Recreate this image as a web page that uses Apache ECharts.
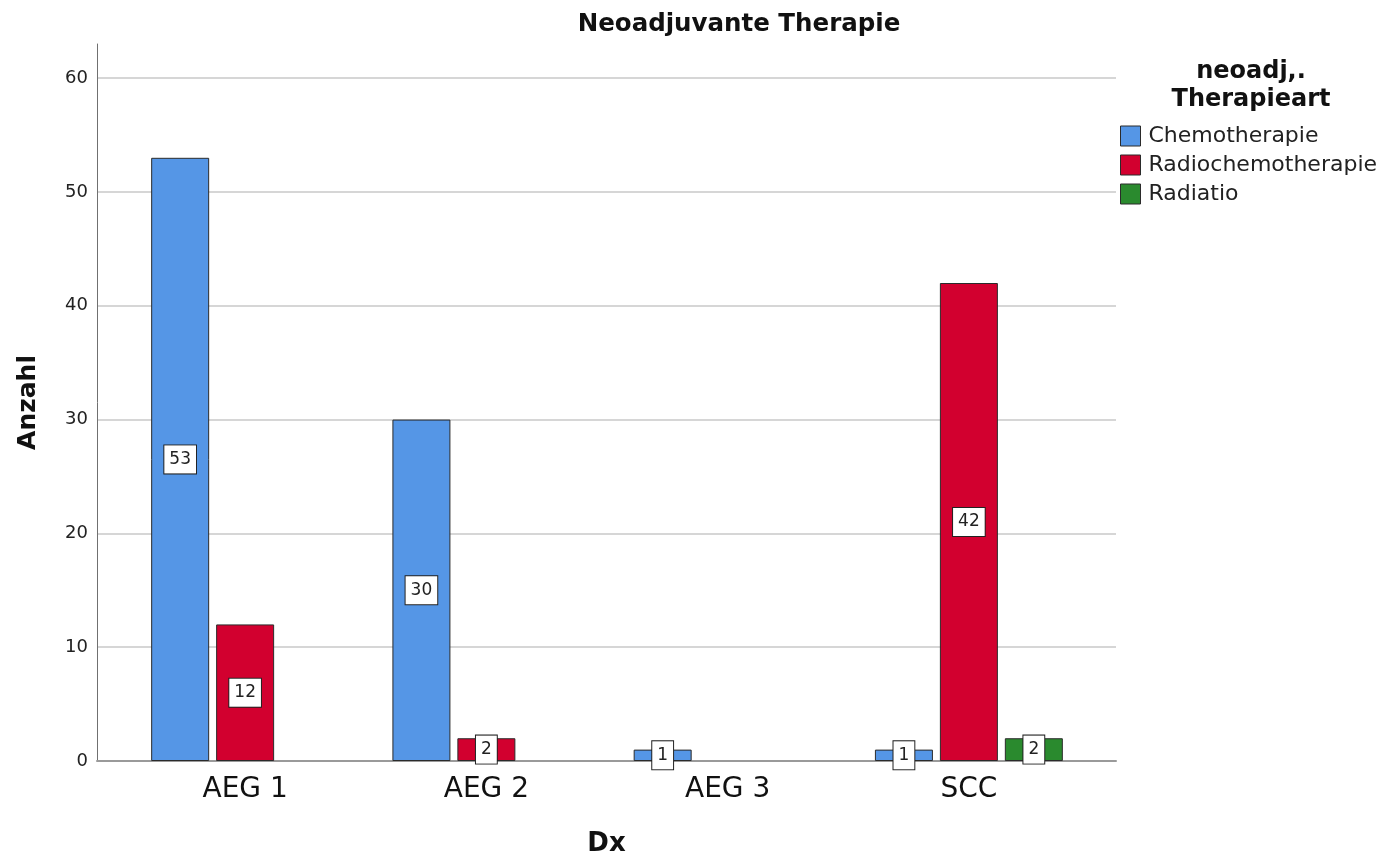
<!DOCTYPE html>
<html>
<head>
<meta charset="utf-8">
<title>Neoadjuvante Therapie</title>
<script src="https://cdn.jsdelivr.net/npm/echarts@6/dist/echarts.min.js"></script>
<style>
  html, body { margin: 0; padding: 0; background: #fff; }
  #chart { width: 1394px; height: 857px; }
</style>
</head>
<body>
<div id="chart"></div>
<script>
// Diagnosis groups on the x axis
const categories = ['AEG 1', 'AEG 2', 'AEG 3', 'SCC'];
// Counts per type of neoadjuvant therapy (null = no cases)
const chemotherapie = [53, 30, 1, 1];
const radiochemotherapie = [12, 2, null, 42];
const radiatio = [null, null, null, 2];
const seriesNames = ['Chemotherapie', 'Radiochemotherapie', 'Radiatio'];
const seriesColors = ['#5596E6', '#D2002F', '#2A8A2E'];
const yTicks = [0, 10, 20, 30, 40, 50, 60];

const FONT = 'DejaVu Sans';
const yMax = 63;

function barSeries(name, data, color) {
  return {
    name: name,
    type: 'bar',
    xAxisIndex: 1,
    yAxisIndex: 1,
    data: data,
    barWidth: 58,
    barGap: '12%',
    itemStyle: { color: color, borderColor: '#2b2b2b', borderWidth: 1 },
    label: {
      show: true,
      position: 'inside',
      color: '#222',
      fontFamily: FONT,
      fontSize: 17,
      backgroundColor: '#fff',
      borderColor: '#222',
      borderWidth: 1,
      padding: [6, 5, 5, 5]
    },
    emphasis: { disabled: true }
  };
}

const chart = echarts.init(document.getElementById('chart'), null, { renderer: 'canvas' });
chart.setOption({
  animation: false,
  backgroundColor: '#fff',
  title: [
    {
      text: 'Neoadjuvante Therapie',
      left: 734, top: 7, textAlign: 'center',
      textStyle: { fontFamily: FONT, fontWeight: 'bold', fontSize: 24.5, color: '#111' }
    },
    {
      text: 'neoadj,.\nTherapieart',
      left: 1246, top: 53, textAlign: 'center',
      textStyle: { fontFamily: FONT, fontWeight: 'bold', fontSize: 24, lineHeight: 28, color: '#111' }
    }
  ],
  legend: {
    orient: 'vertical',
    left: 1120, top: 125,
    padding: 0,
    icon: 'rect',
    itemWidth: 20, itemHeight: 20, itemGap: 7,
    itemStyle: { borderColor: '#2b2b2b', borderWidth: 1 },
    data: seriesNames,
    selectedMode: false,
    textStyle: { fontFamily: FONT, fontSize: 22, lineHeight: 22, color: '#222', padding: [0, 0, 0, 3] }
  },
  grid: [
    { left: 97, right: 278, top: 44, bottom: 96, outerBoundsMode: 'none' },
    { left: 124.5, right: 304.5, top: 44, bottom: 96, outerBoundsMode: 'none' }
  ],
  xAxis: [
    {
      gridIndex: 0, type: 'category', data: [''],
      name: 'Dx', nameLocation: 'middle', nameGap: 70,
      nameTextStyle: { fontFamily: FONT, fontWeight: 'bold', fontSize: 26, color: '#111' },
      axisLine: { lineStyle: { color: '#9a9a9a', width: 2 } },
      axisTick: { show: false }, axisLabel: { show: false }
    },
    {
      gridIndex: 1, type: 'category', data: categories,
      axisLine: { show: false }, axisTick: { show: false },
      axisLabel: { fontFamily: FONT, fontSize: 28, color: '#111', margin: 15 }
    }
  ],
  yAxis: [
    {
      gridIndex: 0, type: 'value', min: 0, max: yMax, interval: 10,
      name: 'Anzahl', nameLocation: 'middle', nameGap: 56,
      nameTextStyle: { fontFamily: FONT, fontWeight: 'bold', fontSize: 25, color: '#111' },
      axisLine: { show: true, lineStyle: { color: '#707070', width: 1 } },
      axisTick: { show: false },
      axisLabel: {
        fontFamily: FONT, fontSize: 18, color: '#222', margin: 9,
        showMaxLabel: false,
        formatter: v => (yTicks.indexOf(v) >= 0 ? String(v) : '')
      },
      splitLine: { show: true, showMinLine: false, showMaxLine: false, lineStyle: { color: '#c8c8c8', width: 1.5 } }
    },
    {
      gridIndex: 1, type: 'value', min: 0, max: yMax, interval: 10,
      show: false, splitLine: { show: false }
    }
  ],
  series: [
    barSeries(seriesNames[0], chemotherapie, seriesColors[0]),
    barSeries(seriesNames[1], radiochemotherapie, seriesColors[1]),
    barSeries(seriesNames[2], radiatio, seriesColors[2])
  ]
});
</script>
</body>
</html>
